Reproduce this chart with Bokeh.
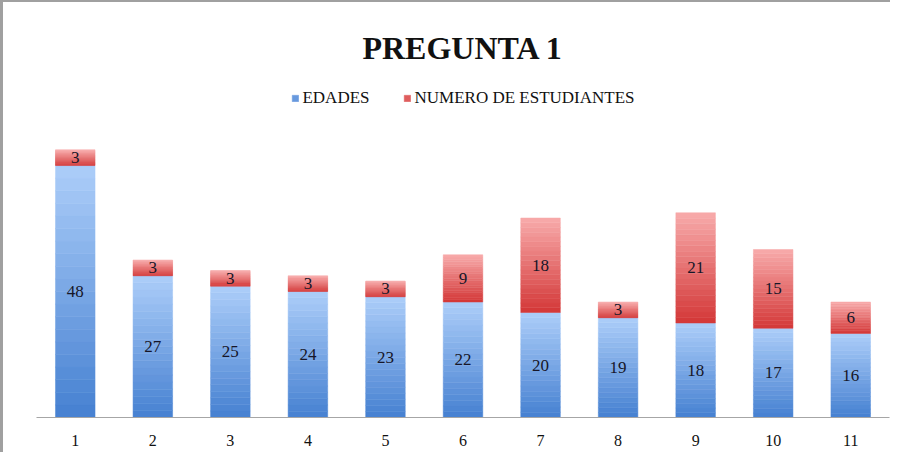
from bokeh.plotting import figure
from bokeh.models import ColumnDataSource, FactorRange, Range1d, Legend, LegendItem, LabelSet
from bokeh.embed import file_html
from bokeh.resources import INLINE

categories = ["1", "2", "3", "4", "5", "6", "7", "8", "9", "10", "11"]
edades = [48, 27, 25, 24, 23, 22, 20, 19, 18, 17, 16]
estudiantes = [3, 3, 3, 3, 3, 9, 18, 3, 21, 15, 6]
series_names = ["EDADES", "NUMERO DE ESTUDIANTES"]

SERIF = "'Liberation Serif', serif"

N = 20
blue_dark, blue_light = (72, 130, 210), (170, 204, 248)
red_dark, red_light = (212, 58, 58), (247, 168, 168)


def mix(c1, c2, t):
    return "#%02x%02x%02x" % tuple(int(round(a + (b - a) * t)) for a, b in zip(c1, c2))


p = figure(width=890, height=452, x_range=FactorRange(*categories),
           y_range=Range1d(0, 66.1), output_backend="svg", toolbar_location=None,
           min_border_left=33, min_border_right=4, min_border_top=68, min_border_bottom=37)
p.styles = {"border-left": "3px solid #a0a0a0", "border-top": "2px solid #a0a0a0"}

p.title.text = "PREGUNTA 1"
p.title.align = "center"
p.title.text_font = SERIF
p.title.text_font_size = "32px"
p.title.text_font_style = "bold"
p.title.text_color = "#111111"

bottoms = [[0] * len(edades), edades]
tops = [edades, [a + b for a, b in zip(edades, estudiantes)]]
palettes = [(blue_dark, blue_light), (red_dark, red_light)]
legend_refs = []
for s in range(2):
    b0, t0 = bottoms[s], tops[s]
    dark, light = palettes[s]
    mid = None
    for k in range(N):
        bb = [b + (t - b) * k / N for b, t in zip(b0, t0)]
        tt = [b + (t - b) * (k + 1) / N for b, t in zip(b0, t0)]
        col = mix(dark, light, k / (N - 1))
        r = p.vbar(x=categories, bottom=bb, top=tt, width=0.51, fill_color=col,
                   line_color=col, line_width=0.5)
        if k == N // 3:
            mid = r
    legend_refs.append(mid)

# value labels
mid_blue = [v / 2 for v in edades]
mid_red = [a + b / 2 for a, b in zip(edades, estudiantes)]
lab_src = ColumnDataSource(dict(x=categories * 2, y=mid_blue + mid_red,
                                t=[str(v) for v in edades] + [str(v) for v in estudiantes]))
labels = LabelSet(x="x", y="y", text="t", source=lab_src, text_align="center",
                  text_baseline="middle", text_font=SERIF, text_font_size="17px",
                  text_color="#161628")
p.add_layout(labels)

legend = Legend(items=[LegendItem(label=series_names[i], renderers=[legend_refs[i]]) for i in range(2)],
                location="top_center", orientation="horizontal", border_line_color=None,
                background_fill_alpha=0, glyph_width=8, glyph_height=8, label_standoff=4,
                spacing=33, margin=18, padding=6,
                label_text_font=SERIF, label_text_font_size="17px",
                label_text_color="#111111")
p.add_layout(legend)

p.yaxis.visible = False
p.ygrid.visible = False
p.xgrid.visible = False
p.outline_line_color = None
p.xaxis.axis_line_color = "#a6a6a6"
p.xaxis.axis_line_width = 1.2
p.xaxis.major_tick_line_color = None
p.xaxis.minor_tick_line_color = None
p.xaxis.major_label_text_font = SERIF
p.xaxis.major_label_text_font_size = "16px"
p.xaxis.major_label_text_color = "#111111"
p.xaxis.major_label_standoff = 11

open("out.html", "w").write(file_html(p, INLINE))
